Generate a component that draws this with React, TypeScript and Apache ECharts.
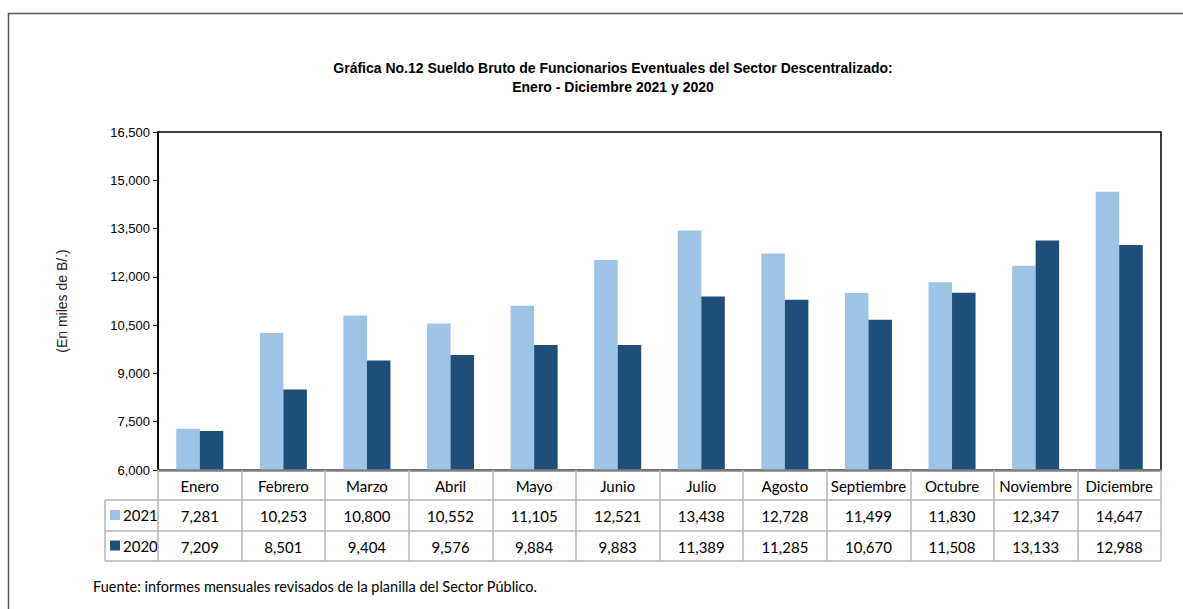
import React, { useEffect, useRef } from "react";
import * as echarts from "echarts";

const months = ["Enero", "Febrero", "Marzo", "Abril", "Mayo", "Junio", "Julio", "Agosto", "Septiembre", "Octubre", "Noviembre", "Diciembre"];
const values2021 = [7281, 10253, 10800, 10552, 11105, 12521, 13438, 12728, 11499, 11830, 12347, 14647];
const values2020 = [7209, 8501, 9404, 9576, 9884, 9883, 11389, 11285, 10670, 11508, 13133, 12988];
const seriesNames = ["2021", "2020"];
const titleText = "Gráfica No.12 Sueldo Bruto de Funcionarios Eventuales del Sector Descentralizado:\nEnero - Diciembre 2021 y 2020";
const yAxisName = "(En miles de B/.)";
const sourceText = "Fuente: informes mensuales revisados de la planilla del Sector Público.";

const fmt = (v: number) => v.toLocaleString("en-US");

const NARROW = "'Liberation Sans Narrow', 'Arial Narrow', 'Liberation Sans', Arial, sans-serif";
const TABLE = "Lato, 'Open Sans', sans-serif";

export default function App() {
  const ref = useRef<HTMLDivElement>(null);
  useEffect(() => {
    if (!ref.current) return;
    const chart = echarts.init(ref.current, null, { renderer: "svg" });
    const gl = 158, gt = 132, gw = 1003, gh = 338;
    const gridLine = "#b4b4b4";
    const valueAxis = (offset: number, data: string[]) => ({
      type: "category",
      gridIndex: 0,
      position: "bottom",
      offset,
      data,
      axisLine: { show: false },
      axisTick: { show: false },
      axisLabel: { interval: 0, margin: 8, fontSize: 15, color: "#000", fontFamily: TABLE },
    });
    chart.setOption({
      animation: false,
      backgroundColor: "#fff",
      title: {
        text: titleText,
        left: 608,
        top: 53,
        textAlign: "center",
        textStyle: { fontSize: 14, fontWeight: "bold", fontFamily: NARROW, color: "#000", lineHeight: 19 },
      },
      legend: {
        orient: "vertical",
        left: 105,
        top: 500,
        icon: "rect",
        itemWidth: 10,
        itemHeight: 10,
        itemGap: 10.5,
        selectedMode: false,
        data: seriesNames,
        textStyle: { fontSize: 15, color: "#000", fontFamily: TABLE, lineHeight: 20, padding: [0, 0, 0, -2] },
      },
      grid: { left: gl, top: gt, width: gw, height: gh, show: true, borderColor: "#000", borderWidth: 1.5, backgroundColor: "#fff" },
      xAxis: [
        {
          type: "category",
          data: months,
          axisLine: { lineStyle: { color: "#808080", width: 2.5 } },
          axisTick: { show: true, interval: 0, length: 91, lineStyle: { color: gridLine, width: 1.5 } },
          axisLabel: { interval: 0, margin: 8, fontSize: 15, color: "#000", fontFamily: TABLE },
          z: 5,
        },
        valueAxis(30, values2021.map(fmt)),
        valueAxis(61, values2020.map(fmt)),
      ],
      yAxis: {
        type: "value",
        min: 6000,
        max: 16500,
        interval: 1500,
        name: yAxisName,
        nameLocation: "middle",
        nameRotate: 90,
        nameGap: 89,
        nameTextStyle: { fontSize: 14, color: "#222", fontFamily: "'Liberation Sans', Arial, sans-serif" },
        axisLine: { show: true, lineStyle: { color: "#000", width: 1.5 } },
        axisTick: { show: true, length: 5, lineStyle: { color: "#000" } },
        splitLine: { show: false },
        axisLabel: { formatter: (v: number) => fmt(v), fontSize: 13, color: "#000", fontFamily: NARROW, margin: 8 },
      },
      series: [
        {
          name: seriesNames[0],
          type: "bar",
          data: values2021,
          barWidth: 23.5,
          barGap: "0%",
          itemStyle: { color: "#9dc3e6" },
        },
        {
          name: seriesNames[1],
          type: "bar",
          data: values2020,
          barWidth: 23.5,
          barGap: "0%",
          itemStyle: { color: "#1f4e79" },
        },
      ],
      graphic: [
        {
          type: "rect",
          shape: { x: 8.5, y: 13.5, width: 1300, height: 800 },
          style: { fill: "none", stroke: "#555", lineWidth: 1.5 },
          silent: true,
        },
        { type: "line", shape: { x1: 105, y1: 500, x2: gl + gw, y2: 500 }, style: { stroke: gridLine, lineWidth: 1.5 } },
        { type: "line", shape: { x1: 105, y1: 531, x2: gl + gw, y2: 531 }, style: { stroke: gridLine, lineWidth: 1.5 } },
        { type: "line", shape: { x1: 105, y1: 561, x2: gl + gw, y2: 561 }, style: { stroke: gridLine, lineWidth: 1.5 } },
        { type: "line", shape: { x1: 105, y1: 500, x2: 105, y2: 561 }, style: { stroke: gridLine, lineWidth: 1.5 } },
        {
          type: "text",
          x: 93,
          y: 586,
          style: { text: sourceText, fontSize: 14.5, fontFamily: TABLE, fill: "#000", verticalAlign: "middle" },
        },
      ],
    });
    return () => chart.dispose();
  }, []);
  return <div ref={ref} style={{ position: "absolute", left: 0, top: 0, width: 1183, height: 609 }} />;
}
